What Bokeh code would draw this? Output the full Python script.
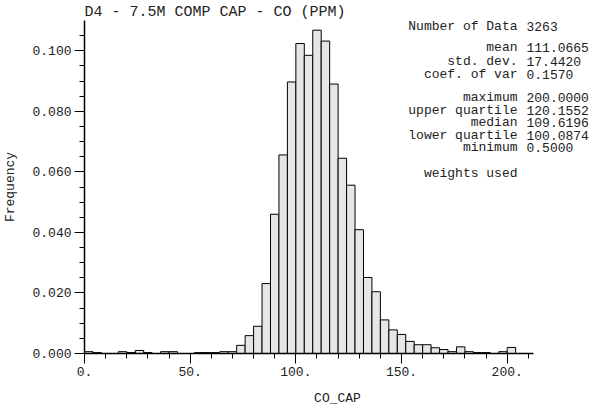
from bokeh.plotting import figure
from bokeh.models import Label, Range1d, SingleIntervalTicker, PrintfTickFormatter
from bokeh.embed import file_html
from bokeh.resources import INLINE

# ---- data ----
title_text = "D4 - 7.5M COMP CAP - CO (PPM)"
x_label = "CO_CAP"
y_label = "Frequency"

bin_left = [0, 4, 8, 12, 16, 20, 24, 28, 32, 36, 40, 44, 48, 52, 56, 60, 64, 68,
            72, 76, 80, 84, 88, 92, 96, 100, 104, 108, 112, 116, 120, 124, 128, 132, 136,
            140, 144, 148, 152, 156, 160, 164, 168, 172, 176, 180, 184, 188, 192, 196, 200]
bin_width = 4
frequency = [0.0006, 0.0003, 0.0, 0.0, 0.0006, 0.0003, 0.0010, 0.0003, 0.0, 0.0006,
             0.0006, 0.0, 0.0, 0.0003, 0.0003, 0.0003, 0.0006, 0.0006,
             0.0027, 0.0059, 0.0090, 0.0231, 0.0460, 0.0656, 0.0897, 0.1024, 0.0985,
             0.1068, 0.1032, 0.0890, 0.0645, 0.0556, 0.0409, 0.0251, 0.0204,
             0.0111, 0.0078, 0.0063, 0.0040, 0.0029, 0.0029, 0.0019, 0.0013, 0.0006,
             0.0022, 0.0006, 0.0003, 0.0003, 0.0, 0.0006, 0.0020]

stat_names = ["Number of Data", "mean", "std. dev.", "coef. of var", "maximum",
              "upper quartile", "median", "lower quartile", "minimum", "weights used"]
stat_values = ["3263", "111.0665", "17.4420", "0.1570", "200.0000",
               "120.1552", "109.6196", "100.0874", "0.5000", ""]

X_AXIS_MAX = 212.5
Y_AXIS_MAX = 0.11

FONT = "Liberation Mono"
TXT = "#222222"

# ---- layout (canvas pixels) ----
W, H = 590, 410
ML = 84            # frame left
FT = 20            # frame top (y = 0.11)
FB = 353           # y of zero line
frame_w = W - ML
ppx = 2.1135                     # px per x unit
ppy = (FB - FT) / Y_AXIS_MAX     # px per y unit
x_end = frame_w / ppx

p = figure(width=W, height=H, output_backend="svg", toolbar_location=None,
           x_range=Range1d(0, x_end), y_range=Range1d(0, Y_AXIS_MAX),
           min_border_left=ML, min_border_right=0, min_border_top=FT,
           min_border_bottom=H - FB, background_fill_color="white",
           border_fill_color="white", title=title_text)
p.outline_line_color = None
p.xgrid.visible = False
p.ygrid.visible = False

p.title.align = "left"
p.title.text_font = FONT
p.title.text_font_size = "15px"
p.title.text_font_style = "normal"
p.title.text_color = TXT
p.title.standoff = 0
p.title.offset = 0

bin_right = [l + bin_width for l in bin_left]
p.quad(left=bin_left, right=bin_right, bottom=0, top=frequency,
       fill_color="#e6e6e6", line_color="black", line_width=1)

# axes
p.xaxis.ticker = SingleIntervalTicker(interval=50, num_minor_ticks=5)
p.yaxis.ticker = SingleIntervalTicker(interval=0.02, num_minor_ticks=4)
p.xaxis.formatter = PrintfTickFormatter(format="%d.")
p.yaxis.formatter = PrintfTickFormatter(format="%.3f")
p.xaxis.bounds = (0, X_AXIS_MAX)
p.yaxis.bounds = (0, Y_AXIS_MAX - 0.0001)
for ax in (p.xaxis[0], p.yaxis[0]):
    ax.axis_line_color = "black"
    ax.axis_line_width = 1.5
    ax.major_tick_line_color = "black"
    ax.minor_tick_line_color = "black"
    ax.major_tick_out = 10
    ax.major_tick_in = 0
    ax.minor_tick_out = 5
    ax.minor_tick_in = 0
    ax.major_label_text_font = FONT
    ax.major_label_text_font_size = "13px"
    ax.major_label_text_color = TXT
    ax.axis_label_text_font = FONT
    ax.axis_label_text_font_size = "13px"
    ax.axis_label_text_font_style = "normal"
    ax.axis_label_text_color = TXT
    ax.major_label_standoff = 3
p.xaxis.axis_label = x_label
p.yaxis.axis_label = y_label
p.xaxis.axis_label_standoff = 12
p.yaxis.axis_label_standoff = 11

# canvas pixel -> data helpers
def ydat(py):
    return (FB - py) / ppy

def xdat(px):
    return (px - ML) / ppx

# statistics block
row_py = [25.7, 46.7, 60.7, 74.3, 97.3, 110.0, 122.3, 134.7, 147.3, 173.3]
name_px = 517
value_px = 526
for name, val, py in zip(stat_names, stat_values, row_py):
    p.add_layout(Label(x=xdat(name_px), y=ydat(py), text=name, text_font=FONT,
                       text_font_size="13px", text_align="right",
                       text_baseline="middle", text_color=TXT))
    if val:
        p.add_layout(Label(x=xdat(value_px), y=ydat(py), text=val, text_font=FONT,
                           text_font_size="13px", text_align="left",
                           text_baseline="middle", text_color=TXT))

open("out.html", "w").write(file_html(p, INLINE))
